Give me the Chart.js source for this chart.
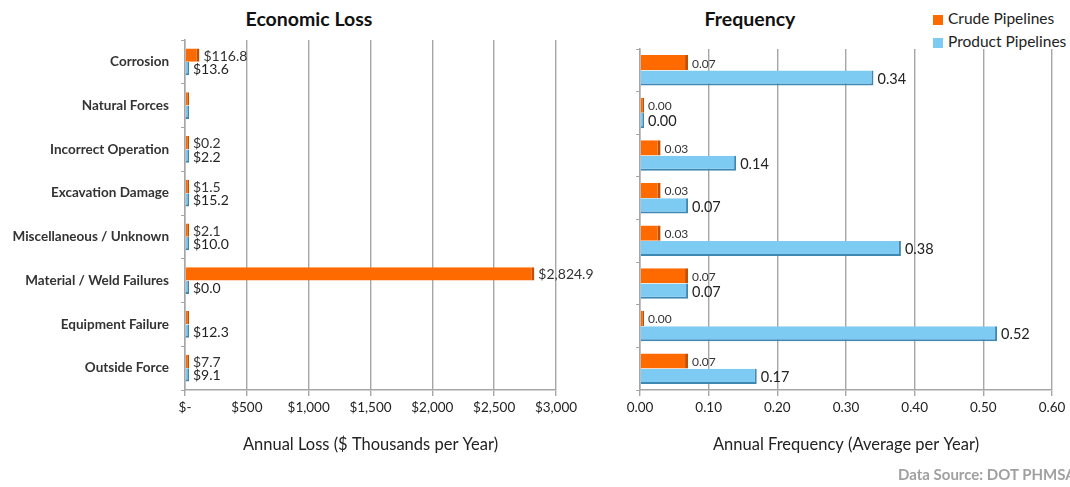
<!DOCTYPE html>
<html>
<head>
<meta charset="utf-8">
<script src="https://cdn.jsdelivr.net/npm/chart.js@4/dist/chart.umd.min.js"></script>
<style>
    body { margin: 0; background: #fff; width: 1070px; height: 487px; overflow: hidden; position: relative; font-family: Lato, sans-serif; }
    .box { position: absolute; top: 0; height: 487px; }
    #lossBox { left: 0; width: 600px; }
    #freqBox { left: 600px; width: 470px; }
    .ttl { position: absolute; top: 7px; font: bold 19.5px Lato, sans-serif; color: #111; transform: translateX(-50%); white-space: nowrap; }
    .legend { position: absolute; left: 933px; top: 7px; font: 15.5px Lato, sans-serif; color: #222; }
    .legend div { height: 23px; line-height: 23px; white-space: nowrap; }
    .legend span { display: inline-block; width: 10px; height: 10px; margin-right: 5px; vertical-align: -1px; }
    .source { position: absolute; left: 898px; top: 465px; font: bold 15px Lato, sans-serif; color: #A0A0A0; white-space: nowrap; }
</style>
</head>
<body>
<div class="ttl" style="left:309px">Economic Loss</div>
<div class="ttl" style="left:750px">Frequency</div>
<div class="legend">
    <div><span style="background:#FF6A00"></span>Crude Pipelines</div>
    <div><span style="background:#7DCBF2"></span>Product Pipelines</div>
</div>
<div class="box" id="lossBox"><canvas id="lossChart"></canvas></div>
<div class="box" id="freqBox"><canvas id="freqChart"></canvas></div>
<div class="source">Data Source: DOT PHMSA</div>

<script>
// ── Data ──────────────────────────────────────────────────────
const categories = ['Corrosion', 'Natural Forces', 'Incorrect Operation', 'Excavation Damage',
    'Miscellaneous / Unknown', 'Material / Weld Failures', 'Equipment Failure', 'Outside Force'];

// annual loss, $ thousands per year (null = no label shown)
const crudeLoss   = [116.8, null, 0.2, 1.5, 2.1, 2824.9, null, 7.7];
const productLoss = [13.6, null, 2.2, 15.2, 10.0, 0.0, 12.3, 9.1];

// annual frequency, average per year
const crudeFreq   = [0.07, 0.00, 0.03, 0.03, 0.03, 0.07, 0.00, 0.07];
const productFreq = [0.34, 0.00, 0.14, 0.07, 0.38, 0.07, 0.52, 0.17];

const lossAxis = { max: 3000, step: 500 };
const freqAxis = { max: 0.6, step: 0.1 };

// ── Styles ────────────────────────────────────────────────────
const ORANGE = '#FF6A00', ORANGE_SIDE = '#C44F00';
const BLUE = '#7DCBF2', BLUE_SIDE = '#3F88B4';
const GRID = '#A6A6A6';

// value labels at the bar ends
const barLabels = {
    id: 'barLabels',
    afterDatasetsDraw(chart, args, opts) {
        const { ctx } = chart;
        ctx.save();
        ctx.textBaseline = 'middle';
        ctx.textAlign = 'left';
        chart.data.datasets.forEach((ds, di) => {
            const meta = chart.getDatasetMeta(di);
            ctx.font = opts.fonts[di];
            ctx.fillStyle = opts.colors[di];
            meta.data.forEach((bar, i) => {
                const raw = ds.raw[i];
                if (raw === null) return;
                ctx.fillText(opts.format(raw), bar.x + 4, bar.y + 1);
            });
        });
        ctx.restore();
    }
};

function makeDatasets(crude, product) {
    const base = { borderSkipped: false, minBarLength: 4, borderRadius: 0 };
    return [
        { ...base, label: 'Crude Pipelines', data: crude.map(v => v ?? 0), raw: crude,
          backgroundColor: ORANGE, borderColor: ORANGE_SIDE, borderWidth: { right: 3, bottom: 0, top: 0, left: 0 } },
        { ...base, label: 'Product Pipelines', data: product.map(v => v ?? 0), raw: product,
          backgroundColor: BLUE, borderColor: BLUE_SIDE, borderWidth: { right: 2, bottom: 2, top: 0, left: 0 } },
    ];
}

function makeChart(id, crude, product, axis, cfg) {
    return new Chart(document.getElementById(id), {
        type: 'bar',
        data: { labels: categories, datasets: makeDatasets(crude, product) },
        options: {
            indexAxis: 'y',
            responsive: true,
            maintainAspectRatio: false,
            animation: false,
            layout: { padding: cfg.padding },
            datasets: { bar: { categoryPercentage: cfg.catPct, barPercentage: 0.98 } },
            plugins: {
                legend: { display: false },
                tooltip: { enabled: false },
                barLabels: { fonts: cfg.labelFonts, colors: ['#333', '#222'], format: cfg.format },
            },
            scales: {
                x: {
                    min: 0, max: axis.max,
                    grid: { color: GRID, lineWidth: 1.4, tickLength: 6, tickColor: GRID },
                    border: { color: GRID, width: 1.5 },
                    ticks: {
                        stepSize: axis.step, padding: 4, color: '#222',
                        font: { family: 'Lato', size: 13.5 },
                        callback: cfg.tick,
                    },
                    title: {
                        display: true, text: cfg.title, color: '#222',
                        font: { family: 'Lato', size: 16.5 }, padding: { top: 15, bottom: 4 },
                    },
                },
                y: {
                    grid: { display: true, drawOnChartArea: false, tickLength: 4, tickColor: GRID, offset: true },
                    border: { color: GRID, width: 1.5 },
                    ticks: {
                        display: cfg.showCats, color: '#333', padding: 12,
                        font: { family: 'Lato', size: 13.5, weight: 'bold' },
                    },
                    afterFit: s => { s.width = cfg.yWidth; },
                },
            },
        },
        plugins: [barLabels],
    });
}

document.addEventListener('DOMContentLoaded', () => {
    makeChart('lossChart', crudeLoss, productLoss, lossAxis, {
        padding: { left: 0, right: 44, top: 40, bottom: 28 },
        yWidth: 185, catPct: 0.62, showCats: true,
        title: 'Annual Loss ($ Thousands per Year)',
        tick: v => v === 0 ? '$-' : '$' + Number(v).toLocaleString('en-US'),
        format: v => '$' + Number(v).toLocaleString('en-US', { minimumFractionDigits: 1, maximumFractionDigits: 1 }),
        labelFonts: ['14px Lato', '14px Lato'],
    });

    makeChart('freqChart', crudeFreq, productFreq, freqAxis, {
        padding: { left: 0, right: 18, top: 49, bottom: 28 },
        yWidth: 40, catPct: 0.72, showCats: false,
        title: 'Annual Frequency (Average per Year)',
        tick: v => Number(v).toFixed(2),
        format: v => Number(v).toFixed(2),
        labelFonts: ['12px Lato', '14.5px Lato'],
    });
});
</script>
</body>
</html>
